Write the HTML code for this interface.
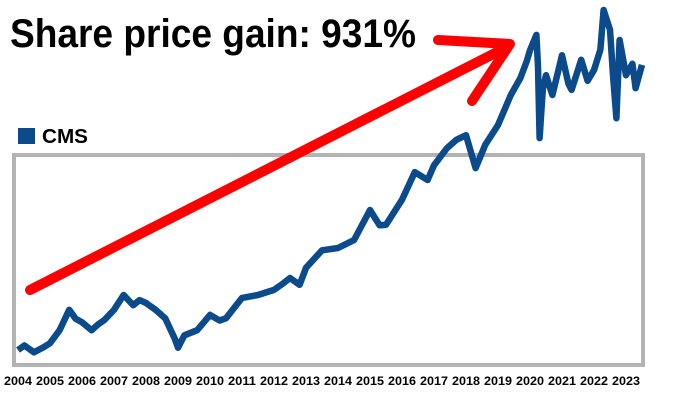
<!DOCTYPE html>
<html><head><meta charset="utf-8"><style>
body{margin:0;background:#fff;width:700px;height:406px;overflow:hidden}
svg{display:block}
</style></head><body>
<svg id="chart" width="700" height="406">
<rect x="14" y="155" width="629" height="210" fill="none" stroke="#b3b3b3" stroke-width="4"/>
<text x="10" y="47" font-family="Liberation Sans, sans-serif" font-weight="bold" font-size="40" textLength="406" lengthAdjust="spacingAndGlyphs" fill="#000">Share price gain: 931%</text>
<rect x="18" y="128" width="17" height="16" fill="#0b4a8b"/>
<text x="42" y="143" font-family="Liberation Sans, sans-serif" font-weight="bold" font-size="20" textLength="46" lengthAdjust="spacingAndGlyphs">CMS</text>
<g id="xticks"></g>
<g id="series"></g>
<g stroke="#f00" stroke-width="10" stroke-linecap="round" stroke-linejoin="round" fill="none">
<path d="M30 290 L505 48"/>
<path d="M438 40 L510 44 L472 101"/>
</g>
</svg>
<script>
const dates=[2004.0,2004.2,2004.5,2004.8,2005.0,2005.3,2005.6,2005.8,2006.0,2006.3,2006.5,2006.7,2007.0,2007.3,2007.6,2007.8,2008.0,2008.3,2008.6,2008.9,2009.0,2009.2,2009.6,2010.0,2010.3,2010.5,2011.0,2011.5,2012.0,2012.3,2012.5,2012.8,2013.0,2013.5,2014.0,2014.5,2015.0,2015.3,2015.5,2016.0,2016.4,2016.8,2017.0,2017.4,2017.7,2018.0,2018.3,2018.6,2019.0,2019.4,2019.7,2019.9,2020.0,2020.2,2020.25,2020.3,2020.4,2020.5,2020.7,2021.0,2021.2,2021.3,2021.6,2021.8,2022.0,2022.2,2022.3,2022.5,2022.6,2022.7,2022.8,2023.0,2023.2,2023.3,2023.5];
const prices=[10,10.8,9.6,10.5,11.2,13.5,17.1,15.5,14.9,13.5,14.5,15.3,17.1,19.7,17.9,18.8,18.3,17.1,15.6,12,10.4,12.6,13.5,16.2,15.2,15.6,19.2,19.7,20.6,21.8,22.7,21.5,24.5,27.6,28,29.4,34.7,32,32.1,36.5,41.4,40,42.6,45.6,47.1,47.9,42.1,46.2,49.7,55,58,61,62.9,65.6,60,47.4,56,58.5,55,62,57,55.9,61.2,57.5,59.4,63,70,66.5,58,50.9,64.7,58.5,60.5,56.2,60.3];
const years=["2004","2005","2006","2007","2008","2009","2010","2011","2012","2013","2014","2015","2016","2017","2018","2019","2020","2021","2022","2023"];
const xs=d=>18+(d-2004)*32;
const ys=v=>350-(v-10)*5.667;
const NS="http://www.w3.org/2000/svg";
const xt=document.getElementById('xticks');
years.forEach(y=>{
 const t=document.createElementNS(NS,'text');
 t.setAttribute('x',xs(+y));t.setAttribute('y',385);
 t.setAttribute('text-anchor','middle');
 t.setAttribute('font-family','Liberation Sans, sans-serif');
 t.setAttribute('font-weight','bold');t.setAttribute('font-size','12');
 t.setAttribute('textLength','28');t.setAttribute('lengthAdjust','spacingAndGlyphs');
 
 
 t.textContent=y;xt.appendChild(t);
});
const p=document.createElementNS(NS,'path');
p.setAttribute('d',dates.map((d,i)=>(i?'L':'M')+xs(d).toFixed(1)+' '+ys(prices[i]).toFixed(1)).join(' '));
p.setAttribute('fill','none');p.setAttribute('stroke','#0b4a8b');
p.setAttribute('stroke-width','6.5');p.setAttribute('stroke-linejoin','round');


document.getElementById('series').appendChild(p);
</script>
</body></html>
